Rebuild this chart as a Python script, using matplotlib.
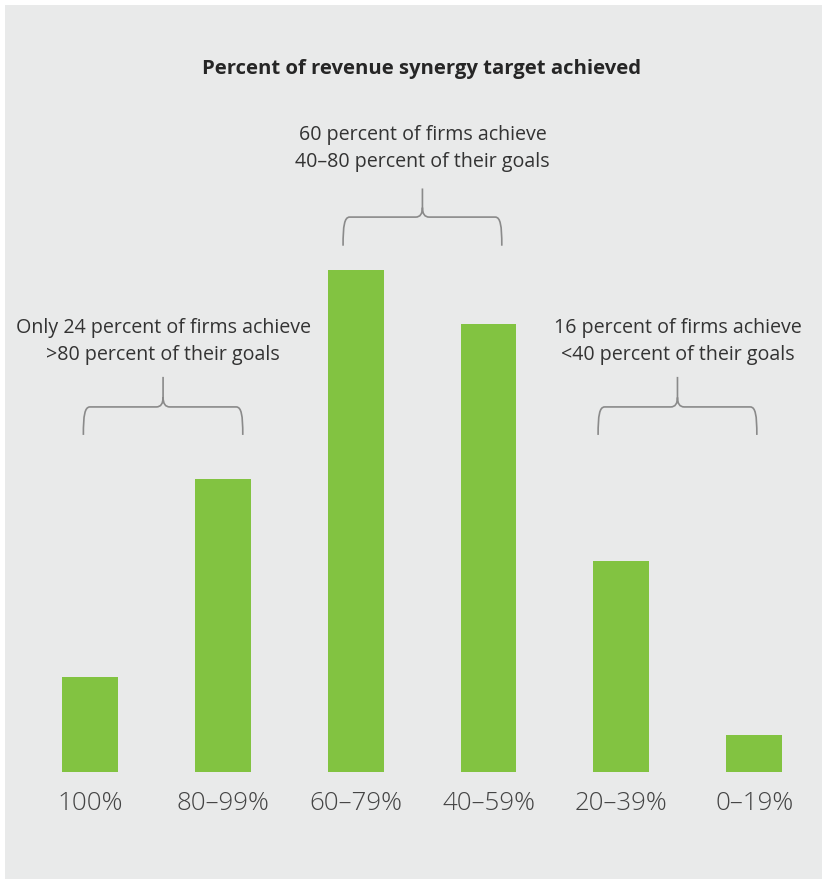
import matplotlib
matplotlib.use("Agg")
import matplotlib.pyplot as plt
from matplotlib.patches import Rectangle, PathPatch
from matplotlib.path import Path

plt.rcParams['font.family'] = ['Open Sans', 'DejaVu Sans']

categories = ["100%", "80–99%", "60–79%", "40–59%", "20–39%", "0–19%"]
values = [6, 18.4, 31.6, 28.2, 13.3, 2.3]
title = "Percent of revenue synergy target achieved"
notes = [
    ("Only 24 percent of firms achieve\n>80 percent of their goals", 0, 1),
    ("60 percent of firms achieve\n40–80 percent of their goals", 2, 3),
    ("16 percent of firms achieve\n<40 percent of their goals", 4, 5),
]

GREEN = "#82c341"
BG = "#e9eaea"

fig = plt.figure(figsize=(8.24, 8.82), dpi=100)
fig.patch.set_facecolor("white")
fig.add_artist(Rectangle((5 / 824, 3 / 882), 817 / 824, 874 / 882,
                         transform=fig.transFigure, facecolor=BG,
                         edgecolor="none", zorder=-10))

ax = fig.add_axes([23.6 / 824, 110 / 882, 797 / 824, 715.5 / 882])
ax.set_zorder(1)
ax.set_facecolor("none")
x = list(range(len(categories)))
ax.bar(x, values, width=0.42, color=GREEN, zorder=2)
ax.set_xlim(-0.5, 5.5)
ax.set_ylim(0, 45)
for s in ax.spines.values():
    s.set_visible(False)
ax.set_yticks([])
ax.set_xticks(x)
ax.set_xticklabels(categories, fontsize=18.6, color="#444444", fontweight="light")
ax.tick_params(axis="x", length=0, pad=14)

fig.text(0.512, 1 - 69 / 882, title, ha="center", va="center",
         fontsize=14.6, fontweight="bold", color="#262626", zorder=5)


def brace(ax, x0, x1, yb, yh, yt, color="#8a8a8a"):
    xm = (x0 + x1) / 2
    dxc = 0.05
    dxt = 0.05
    rt = 0.6
    verts = [
        (x0, yb), (x0, yb + 0.7 * (yh - yb)), (x0 + 0.01, yh), (x0 + dxc, yh),
        (xm - dxt, yh),
        (xm, yh), (xm, yh + rt),
        (xm, yt),
        (xm, yh + rt),
        (xm, yh), (xm + dxt, yh),
        (x1 - dxc, yh),
        (x1 - 0.01, yh), (x1, yb + 0.7 * (yh - yb)), (x1, yb),
    ]
    codes = [
        Path.MOVETO, Path.CURVE4, Path.CURVE4, Path.CURVE4,
        Path.LINETO,
        Path.CURVE3, Path.CURVE3,
        Path.LINETO,
        Path.MOVETO,
        Path.CURVE3, Path.CURVE3,
        Path.LINETO,
        Path.CURVE4, Path.CURVE4, Path.CURVE4,
    ]
    ax.add_patch(PathPatch(Path(verts, codes), facecolor="none",
                           edgecolor=color, lw=1.2, zorder=3, clip_on=False))


brace_x = {0: (-0.05, 1.15), 2: (1.905, 3.10), 4: (3.825, 5.02)}
for text, i0, i1 in notes:
    x0, x1 = brace_x[i0]
    if i0 == 2:
        yb, yh, yt, ytx = 33.1, 34.9, 36.7, 39.22
    else:
        yb, yh, yt, ytx = 21.2, 22.96, 24.85, 27.07
    brace(ax, x0, x1, yb, yh, yt)
    ax.text((x0 + x1) / 2, ytx, text, ha="center", va="center",
            fontsize=14.1, color="#333333", linespacing=1.5)

fig.savefig("out.png", dpi=100, facecolor=fig.get_facecolor())
